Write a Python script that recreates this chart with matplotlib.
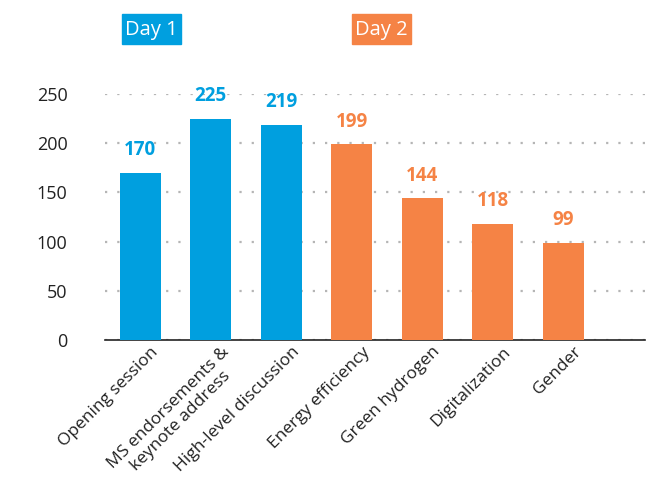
import matplotlib.pyplot as plt
import matplotlib.transforms as mtransforms
from matplotlib.patches import Rectangle

sessions = ['Opening session', 'MS endorsements &\nkeynote address', 'High-level discussion',
            'Energy efficiency', 'Green hydrogen', 'Digitalization', 'Gender']
attendance = [170, 225, 219, 199, 144, 118, 99]
days = [1, 1, 1, 2, 2, 2, 2]

blue = '#009FDF'
orange = '#F58345'
colors = [blue if d == 1 else orange for d in days]

plt.rcParams['font.family'] = ['Open Sans', 'DejaVu Sans']

fig = plt.figure(figsize=(6.56, 4.86), dpi=100)
ax = fig.add_axes([105/656, 1 - 340/486, 540/656, 246/486])

x = range(len(sessions))
bars = ax.bar(x, attendance, width=0.58, color=colors, zorder=3)
for xi, v, c in zip(x, attendance, colors):
    ax.annotate(str(v), (xi, v), xytext=(0, 9), textcoords='offset points',
                ha='center', va='bottom', color=c, fontsize=13.5, fontweight='bold')

ax.set_xlim(-0.5, 7.16)
ax.set_ylim(0, 250)
ax.set_yticks([0, 50, 100, 150, 200, 250])
ax.yaxis.grid(True, linestyle=(0, (1, 4.5)), color='#B5B5B5', linewidth=1.6, zorder=0)
ax.set_axisbelow(True)
for s in ['top', 'right', 'left']:
    ax.spines[s].set_visible(False)
ax.spines['bottom'].set_color('#222222')
ax.spines['bottom'].set_linewidth(1.2)
ax.tick_params(axis='both', length=0, labelsize=13, colors='#222222', pad=0)
ax.tick_params(axis='y', pad=27)

ax.set_xticks(list(x))
ax.set_xticklabels(sessions, rotation=45, ha='right', rotation_mode='anchor',
                   multialignment='center', fontsize=12.5)
# nudge labels so they end just right of the bar centres
offset = mtransforms.ScaledTranslation(10/100, -4/100, fig.dpi_scale_trans)
for lab in ax.get_xticklabels():
    lab.set_transform(lab.get_transform() + offset)

# day badges
for label, col, x0 in [('Day 1', blue, 122), ('Day 2', orange, 352)]:
    fig.patches.append(Rectangle((x0/656, 1 - 44/486), 59/656, 30/486,
                                 transform=fig.transFigure, color=col, zorder=1))
    fig.text((x0 + 29.5)/656, 1 - 30/486, label, color='white', fontsize=14.5,
             ha='center', va='center')

fig.savefig('out.png', dpi=100)
